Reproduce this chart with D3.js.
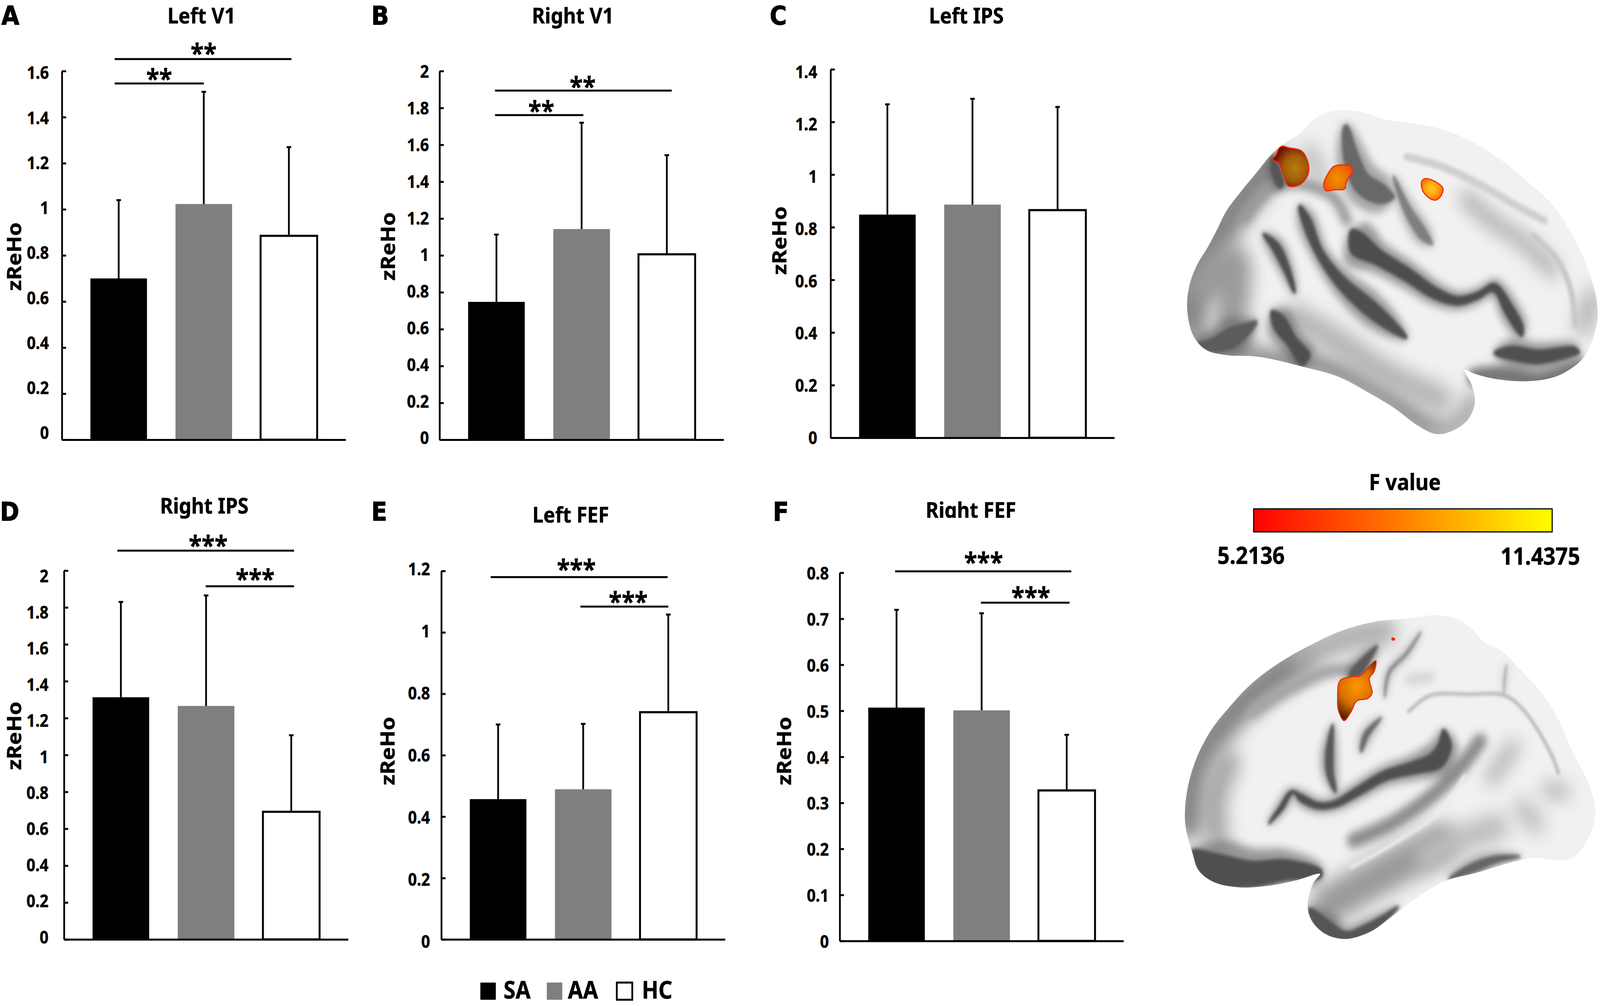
<!DOCTYPE html>
<html>
<head>
<meta charset="utf-8">
<script src="https://cdn.jsdelivr.net/npm/d3@7"></script>
<style>
  html, body { margin: 0; padding: 0; background: #fff; overflow: hidden; }
  text { font-family: "Noto Sans", sans-serif; font-weight: 700; fill: #000; stroke: #000; stroke-width: 0.7px; }
</style>
</head>
<body>
<div id="chart"></div>
<script>
"use strict";

// bar data
const groups = ["SA", "AA", "HC"];

const leftV1Means = [0.70, 1.023, 0.885];
const leftV1Tops = [1.04, 1.51, 1.27];
const leftV1Ticks = [0, 0.2, 0.4, 0.6, 0.8, 1, 1.2, 1.4, 1.6];

const rightV1Means = [0.748, 1.143, 1.006];
const rightV1Tops = [1.113, 1.72, 1.544];
const rightV1Ticks = [0, 0.2, 0.4, 0.6, 0.8, 1, 1.2, 1.4, 1.6, 1.8, 2];

const leftIpsMeans = [0.848, 0.886, 0.865];
const leftIpsTops = [1.267, 1.288, 1.257];
const leftIpsTicks = [0, 0.2, 0.4, 0.6, 0.8, 1, 1.2, 1.4];

const rightIpsMeans = [1.313, 1.266, 0.692];
const rightIpsTops = [1.83, 1.865, 1.107];
const rightIpsTicks = [0, 0.2, 0.4, 0.6, 0.8, 1, 1.2, 1.4, 1.6, 1.8, 2];

const leftFefMeans = [0.457, 0.489, 0.74];
const leftFefTops = [0.70, 0.702, 1.058];
const leftFefTicks = [0, 0.2, 0.4, 0.6, 0.8, 1, 1.2];

const rightFefMeans = [0.507, 0.501, 0.327];
const rightFefTops = [0.7195, 0.712, 0.448];
const rightFefTicks = [0, 0.1, 0.2, 0.3, 0.4, 0.5, 0.6, 0.7, 0.8];

// significance bars: from group, to group, level on the y axis, stars
const leftV1Sig = [["SA", "HC", 1.652, "**"], ["SA", "AA", 1.546, "**"]];
const rightV1Sig = [["SA", "HC", 1.894, "**"], ["SA", "AA", 1.761, "**"]];
const leftIpsSig = [];
const rightIpsSig = [["SA", "HC", 2.108, "***"], ["AA", "HC", 1.915, "***"]];
const leftFefSig = [["SA", "HC", 1.180, "***"], ["AA", "HC", 1.084, "***"]];
const rightFefSig = [["SA", "HC", 0.803, "***"], ["AA", "HC", 0.735, "***"]];

const fMin = 5.2136;
const fMax = 11.4375;
const fLabels = ["5.2136", "11.4375"];

const width = 4550;
const height = 2576;
const barFill = { SA: "#000000", AA: "#7f7f7f", HC: "#ffffff" };
const colorF = d3.scaleLinear().domain([fMin, fMax]).range(["#ff0000", "#ffff00"]);

// where each panel sits on the page
const panels = [
  { title: "Left V1", letter: "A", means: leftV1Means, tops: leftV1Tops, ticks: leftV1Ticks, sig: leftV1Sig,
    x0: 176, x1: 983, yTop: 182, y0: 1126, titleX: 573, titleY: 60, letterX: 4, letterY: 63,
    yLabelX: 60.5, yLabelY: 657, tickGap: 37, labelTop: 4, labelBottom: -18,
    sigLayout: [[-11.5, 7.5, 1.5, 29.5], [-11.5, 0, 0, 26.5]] },
  { title: "Right V1", letter: "B", means: rightV1Means, tops: rightV1Tops, ticks: rightV1Ticks, sig: rightV1Sig,
    x0: 1250, x1: 2058, yTop: 182, y0: 1126, titleX: 1629, titleY: 60, letterX: 1056, letterY: 63,
    yLabelX: 1123, yLabelY: 631, tickGap: 30, labelTop: 1, labelBottom: -5,
    sigLayout: [[-4, 14, -2, 25], [-4, 5, 6, 26]] },
  { title: "Left IPS", letter: "C", means: leftIpsMeans, tops: leftIpsTops, ticks: leftIpsTicks, sig: leftIpsSig,
    x0: 2362, x1: 3169, yTop: 177.5, y0: 1121, titleX: 2748, titleY: 60, letterX: 2189, letterY: 63,
    yLabelX: 2236, yLabelY: 616, tickGap: 38, labelTop: 6, labelBottom: 0,
    sigLayout: [] },
  { title: "Right IPS", letter: "D", means: rightIpsMeans, tops: rightIpsTops, ticks: rightIpsTicks, sig: rightIpsSig,
    x0: 182, x1: 990, yTop: 1461, y0: 2405.5, titleX: 581, titleY: 1315, letterX: 0, letterY: 1333,
    yLabelX: 60.5, yLabelY: 1884, tickGap: 44, labelTop: 14, labelBottom: -6,
    sigLayout: [[-10, 8, 7, 28], [-1, 8, 15, 33]] },
  { title: "Left FEF", letter: "E", means: leftFefMeans, tops: leftFefTops, ticks: leftFefTicks, sig: leftFefSig,
    x0: 1255, x1: 2062, yTop: 1462, y0: 2405.6, titleX: 1623, titleY: 1338, letterX: 1056, letterY: 1333,
    yLabelX: 1122, yLabelY: 1923, tickGap: 32, labelTop: -5, labelBottom: 5,
    sigLayout: [[-21, -2, -8, 35], [-8, 0, 11, 27.5]] },
  { title: "Right FEF", letter: "F", means: rightFefMeans, tops: rightFefTops, ticks: rightFefTicks, sig: rightFefSig,
    x0: 2388, x1: 3195, yTop: 1466.6, y0: 2409.4, titleX: 2761, titleY: 1326, letterX: 2198, letterY: 1333,
    yLabelX: 2250, yLabelY: 1923, tickGap: 31, labelTop: 1.5, labelBottom: 1,
    titleClip: true,
    sigLayout: [[-4, 13, 1, 38.5], [-2, 8, 16, 29]] }
];

// brain drawings, traced in the coordinates of a 1568 x 1568 crop
const brainTopOutline = [[95,820],[105,760],[130,710],[170,660],[205,610],[235,565],[290,510],[345,460],[400,410],[450,380],[500,355],[540,325],[590,302],[650,295],[720,300],[800,320],[900,330],[1000,345],[1100,375],[1200,420],[1300,480],[1400,550],[1470,630],[1525,720],[1555,800],[1558,860],[1530,930],[1500,965],[1420,1005],[1320,1020],[1200,1015],[1120,1000],[1085,990],[1110,1030],[1122,1075],[1100,1120],[1050,1150],[985,1162],[920,1140],[830,1090],[740,1050],[640,1010],[500,980],[350,955],[230,950],[160,935],[115,895]];

// soft shading: colour, stroke width, blur, line
const brainTopShades = [
  ["#858585", 100, "blurL", [[105,850],[130,740],[210,620],[300,520],[390,440]]],
  ["#9a9a9a", 90, "blurL", [[150,760],[260,700],[250,860]]],
  ["#8a8a8a", 60, "blurL", [[120,900],[200,930],[300,935]]],
  ["#7c7c7c", 50, "blurL", [[320,965],[500,965],[650,1000],[800,1060],[960,1150]]],
  ["#a0a0a0", 50, "blurL", [[960,1150],[1060,1140],[1115,1075]]],
  ["#b4b4b4", 70, "blurL", [[480,850],[620,910],[800,1000],[1000,1070]]],
  ["#bababa", 60, "blurL", [[1510,870],[1540,800]]],
  ["#777777", 50, "blurM", [[1125,1010],[1220,1005],[1350,1020],[1500,985]]],
  ["#a8a8a8", 38, "blurL", [[1090,530],[1180,590],[1300,650],[1400,725]]],
  ["#bdbdbd", 50, "blurL", [[530,410],[565,470]]],
  ["#9a9a9a", 30, "blurM", [[300,585],[400,500],[520,495],[620,530],[665,590]]],
  ["#cfcfcf", 20, "blurS", [[880,420],[1000,445],[1130,490],[1280,555],[1370,590]]],
  ["#c8c8c8", 16, "blurS", [[1330,630],[1420,700],[1465,780],[1480,870]]]
];

// sulci: colour, points with a local width
const brainTopSulci = [
  ["#4f4f4f", [[495,550,8],[520,590,34],[570,680,30],[650,760,40],[740,820,50],[830,875,34],[880,905,6]]],
  ["#4f4f4f", [[365,625,5],[410,660,30],[450,720,26],[480,785,6]]],
  ["#4d4d4d", [[680,615,12],[700,650,70],[780,690,46],[880,735,40],[980,785,34],[1060,805,26],[1130,792,22],[1190,770,26],[1240,825,36],[1285,885,28],[1290,902,5]]],
  ["#4f4f4f", [[395,832,8],[420,860,50],[470,915,40],[520,965,42]]],
  ["#505050", [[1190,945,8],[1250,945,40],[1350,955,40],[1480,940,24],[1497,945,4]]],
  ["#5c5c5c", [[130,925,14],[180,925,36],[250,905,58],[310,880,36],[345,860,6]]],
  ["#555555", [[400,420,12],[412,460,34],[432,500,20]]],
  ["#686868", [[660,335,14],[680,420,56],[720,490,66],[790,520,56],[835,528,8]]],
  ["#7f7f7f", [[830,470,4],[880,560,28],[940,630,32],[972,655,4]]]
];

const brainTopBlobs = [
  { id: "blobA", fill: ["#b47e10", "#a35a08", "#6e1204"], center: [480, 450], radius: 75,
    points: [[400,428],[412,415],[428,392],[460,396],[505,405],[528,440],[525,470],[495,495],[455,497],[440,470],[420,435]] },
  { id: "blobB", fill: ["#f59000", "#ea7000", "#e84500"], center: [630, 478], radius: 65,
    points: [[582,495],[600,462],[620,445],[680,445],[685,458],[662,488],[658,505],[620,508],[590,510]] },
  { id: "blobC", fill: ["#ffc81e", "#ffa010", "#ff5a00"], center: [968, 505], radius: 44,
    points: [[932,485],[945,478],[985,488],[1008,505],[1000,525],[985,535],[965,533],[935,510]] }
];

const brainBottomOutline = [[88,830],[100,740],[130,640],[180,540],[240,460],[320,370],[420,290],[520,230],[640,170],[760,135],[880,122],[990,110],[1060,125],[1120,170],[1155,210],[1220,245],[1290,320],[1360,400],[1420,500],[1470,620],[1520,720],[1550,820],[1545,890],[1510,970],[1470,1015],[1420,1025],[1340,1015],[1260,1030],[1130,1070],[1020,1100],[920,1160],[830,1230],[750,1290],[660,1318],[590,1300],[540,1250],[525,1190],[545,1110],[570,1075],[480,1100],[380,1120],[280,1125],[190,1105],[135,1060],[115,1000],[90,900]];

const brainBottomShades = [
  ["#858585", 90, "blurL", [[100,880],[125,680],[210,530],[330,400],[500,270]]],
  ["#adadad", 70, "blurL", [[500,260],[680,190],[800,170]]],
  ["#a6a6a6", 70, "blurL", [[240,660],[190,800],[200,930]]],
  ["#9a9a9a", 100, "blurL", [[600,1190],[800,1070],[1000,960]]],
  ["#8c8c8c", 40, "blurM", [[690,950],[820,890],[960,790],[1060,690],[1140,580]]],
  ["#ededed", 10, "blurS", [[680,1050],[850,950],[1000,840],[1085,710]]],
  ["#bcbcbc", 50, "blurL", [[1290,830],[1340,890]]],
  ["#a8a8a8", 34, "blurL", [[1380,760],[1440,770]]],
  ["#a8a8a8", 34, "blurL", [[1180,720],[1260,600]]],
  ["#a4a4a4", 34, "blurM", [[330,470],[460,385],[620,315],[720,330]]],
  ["#b0b0b0", 8, "blurS", [[885,470],[960,410],[1100,405],[1230,410],[1300,470],[1390,620],[1420,700]]],
  ["#d6d6d6", 30, "blurM", [[890,350],[960,340]]],
  ["#bdbdbd", 70, "blurL", [[950,1010],[1090,940],[1200,900]]]
];

const brainBottomSulci = [
  ["#4f4f4f", [[1010,535,8],[1015,590,50],[985,650,68],[900,680,50],[800,710,40],[700,770,34],[620,815,28],[560,820,28],[500,790,28],[470,770,18],[430,830,20],[385,890,4]]],
  ["#5a5a5a", [[615,515,4],[603,620,30],[605,700,28],[625,772,8]]],
  ["#6a6a6a", [[790,490,3],[735,555,22],[715,622,6]]],
  ["#5c5c5c", [[775,222,4],[745,260,28],[695,325,40],[670,345,6]]],
  ["#4f4f4f", [[112,985,10],[190,1055,120],[330,1075,100],[450,1060,80],[575,1075,30]]],
  ["#555555", [[528,1205,14],[590,1275,60],[660,1305,36],[730,1285,40],[805,1235,26],[850,1195,4]]],
  ["#666666", [[1030,1095,8],[1120,1050,36],[1200,1020,28],[1285,1010,4]]],
  ["#8f8f8f", [[930,170,3],[880,250,14],[815,325,14],[800,420,3]]],
  ["#a8a8a8", [[1235,290,2],[1228,350,8],[1225,405,2]]]
];

const brainBottomBlobs = [
  { id: "blobD", fill: ["#ff9800", "#d86e00", "#4c2404"], center: [700, 375], radius: 110,
    points: [[640,355],[680,340],[715,335],[745,300],[768,280],[762,320],[745,345],[755,400],[740,420],[700,430],[680,470],[655,503],[635,465],[632,420]] },
  { id: "blobE", fill: ["#ee1111", "#ee1111", "#ee1111"], center: [830, 199], radius: 6,
    points: [[825,197],[830,195],[836,199],[830,203]] }
];

// the browser window can be narrower than the page asked for, so fit the viewBox to it
const svg = d3.select("#chart").append("svg")
  .attr("viewBox", "0 0 " + width + " " + height)
  .attr("preserveAspectRatio", "none")
  .style("width", "100vw")
  .style("height", "100vh")
  .style("display", "block");

svg.append("rect").attr("width", width).attr("height", height).attr("fill", "#ffffff");

const defs = svg.append("defs");

function addBlur(id, amount) {
  defs.append("filter")
    .attr("id", id)
    .attr("filterUnits", "userSpaceOnUse")
    .attr("x", 3300).attr("y", 0).attr("width", 1250).attr("height", height)
    .append("feGaussianBlur")
    .attr("stdDeviation", amount);
}
addBlur("blurS", 4);
addBlur("blurM", 11);
addBlur("blurL", 24);

function drawPanel(panel, i) {
  const g = svg.append("g").attr("class", "panel");

  const maxTick = d3.max(panel.ticks);
  const y = d3.scaleLinear().domain([0, maxTick]).range([panel.y0, panel.yTop]);
  const labelY = d3.scaleLinear().domain([0, maxTick])
    .range([panel.y0 + panel.labelBottom, panel.yTop + panel.labelTop]);
  const x = d3.scaleBand().domain(groups).range([panel.x0, panel.x1]).padding(0.335);
  const center = function(name) { return x(name) + x.bandwidth() / 2; };

  const rows = groups.map(function(name, j) {
    return { name: name, mean: panel.means[j], top: panel.tops[j] };
  });

  g.selectAll("rect.bar")
    .data(rows)
    .enter()
    .append("rect")
    .attr("class", "bar")
    .attr("x", function(d) { return x(d.name); })
    .attr("y", function(d) { return y(d.mean); })
    .attr("width", x.bandwidth())
    .attr("height", function(d) { return y(0) - y(d.mean); })
    .attr("fill", function(d) { return barFill[d.name]; })
    .attr("stroke", function(d) { return d.name == "HC" ? "#000" : "none"; })
    .attr("stroke-width", 5.5);

  g.selectAll("line.err")
    .data(rows)
    .enter()
    .append("line")
    .attr("class", "err")
    .attr("x1", function(d) { return center(d.name); })
    .attr("x2", function(d) { return center(d.name); })
    .attr("y1", function(d) { return y(d.mean); })
    .attr("y2", function(d) { return y(d.top); })
    .attr("stroke", "#000")
    .attr("stroke-width", 5);

  g.selectAll("line.cap")
    .data(rows)
    .enter()
    .append("line")
    .attr("class", "cap")
    .attr("x1", function(d) { return center(d.name) - 6.5; })
    .attr("x2", function(d) { return center(d.name) + 6.5; })
    .attr("y1", function(d) { return y(d.top); })
    .attr("y2", function(d) { return y(d.top); })
    .attr("stroke", "#000")
    .attr("stroke-width", 5);

  const yAxis = d3.axisLeft(y)
    .tickValues(panel.ticks)
    .tickFormat(function(d) { return String(d); })
    .tickSizeInner(-12)
    .tickSizeOuter(0)
    .tickPadding(panel.tickGap);

  const yG = g.append("g")
    .attr("transform", "translate(" + panel.x0 + ",0)")
    .call(yAxis);
  yG.selectAll(".domain, .tick line").attr("stroke", "#000").attr("stroke-width", 5);
  yG.selectAll(".tick text")
    .attr("font-size", 44)
    .attr("font-family", "'Noto Sans', sans-serif")
    .attr("y", function(d) { return labelY(d) - y(d); })
    .attr("dy", "0.36em");

  const xAxis = d3.axisBottom(x).tickSize(0).tickFormat("");
  const xG = g.append("g")
    .attr("transform", "translate(0," + panel.y0 + ")")
    .call(xAxis);
  xG.select(".domain").attr("stroke", "#000").attr("stroke-width", 5);

  const title = g.append("text")
    .attr("x", panel.titleX)
    .attr("y", panel.titleY)
    .attr("text-anchor", "middle")
    .attr("font-size", 56)
    .text(panel.title);
  if (panel.titleClip) {
    // the source figure crops the descender of this title
    defs.append("clipPath").attr("id", "titleClip" + i)
      .append("rect")
      .attr("x", panel.titleX - 300).attr("y", panel.titleY - 80)
      .attr("width", 600).attr("height", 80);
    title.attr("clip-path", "url(#titleClip" + i + ")");
  }

  g.append("text")
    .attr("x", panel.letterX)
    .attr("y", panel.letterY)
    .attr("font-size", 66)
    .style("font-family", "'DejaVu Sans', sans-serif")
    .style("stroke-width", "1.5px")
    .text(panel.letter);

  g.append("text")
    .attr("transform", "translate(" + panel.yLabelX + "," + panel.yLabelY + ") rotate(-90)")
    .attr("text-anchor", "middle")
    .attr("font-size", 56)
    .text("zReHo");

  panel.sig.forEach(function(s, k) {
    const place = panel.sigLayout[k];
    const xa = center(s[0]) + place[0];
    const xb = center(s[1]) + place[1];
    g.append("line")
      .attr("x1", xa).attr("x2", xb)
      .attr("y1", y(s[2])).attr("y2", y(s[2]))
      .attr("stroke", "#000")
      .attr("stroke-width", 5);
    g.append("text")
      .attr("x", (xa + xb) / 2 + place[2])
      .attr("y", y(s[2]) - place[3] + 39)
      .attr("text-anchor", "middle")
      .attr("font-size", 68)
      .text(s[3]);
  });
}

panels.forEach(drawPanel);

// legend
const legendItems = [
  { name: groups[0], box: 1366, label: 1432 },
  { name: groups[1], box: 1555, label: 1615 },
  { name: groups[2], box: 1754, label: 1825 }
];
const legend = svg.append("g").attr("class", "legend");
legend.selectAll("rect")
  .data(legendItems)
  .enter()
  .append("rect")
  .attr("x", function(d) { return d.box; })
  .attr("y", 2516)
  .attr("width", 44)
  .attr("height", 44)
  .attr("fill", function(d) { return barFill[d.name]; })
  .attr("stroke", function(d) { return d.name == "HC" ? "#000" : "none"; })
  .attr("stroke-width", 5);
legend.selectAll("text")
  .data(legendItems)
  .enter()
  .append("text")
  .attr("x", function(d) { return d.label; })
  .attr("y", 2557)
  .attr("font-size", 62)
  .text(function(d) { return d.name; });

// colour bar
const barScale = d3.scaleLinear().domain([fMin, fMax]).range([3565, 4414]);
const gradient = defs.append("linearGradient").attr("id", "fGradient");
d3.range(0, 1.01, 0.1).forEach(function(t) {
  gradient.append("stop")
    .attr("offset", t)
    .attr("stop-color", colorF(fMin + t * (fMax - fMin)));
});
svg.append("rect")
  .attr("x", barScale(fMin))
  .attr("y", 1303)
  .attr("width", barScale(fMax) - barScale(fMin))
  .attr("height", 59)
  .attr("fill", "url(#fGradient)")
  .attr("stroke", "#000")
  .attr("stroke-width", 3);
svg.append("text")
  .attr("x", 3995).attr("y", 1255)
  .attr("text-anchor", "middle")
  .attr("font-size", 58)
  .text("F value");
svg.append("text")
  .attr("x", 3462).attr("y", 1444)
  .attr("font-size", 61)
  .text(fLabels[0]);
svg.append("text")
  .attr("x", 4267).attr("y", 1446)
  .attr("font-size", 61)
  .text(fLabels[1]);

// closed shape around a line whose width changes from point to point
function ribbon(points, grow) {
  const left = [];
  const right = [];
  points.forEach(function(p, i) {
    const a = points[Math.max(i - 1, 0)];
    const b = points[Math.min(i + 1, points.length - 1)];
    const len = Math.hypot(b[0] - a[0], b[1] - a[1]);
    const nx = -(b[1] - a[1]) / len;
    const ny = (b[0] - a[0]) / len;
    const half = p[2] * grow / 2;
    left.push([p[0] + nx * half, p[1] + ny * half]);
    right.unshift([p[0] - nx * half, p[1] - ny * half]);
  });
  return left.concat(right);
}

function drawBrain(id, outline, shades, sulci, blobs, sx, sy) {
  const g = svg.append("g").attr("class", "brain");
  const smooth = d3.line()
    .x(function(p) { return sx(p[0]); })
    .y(function(p) { return sy(p[1]); })
    .curve(d3.curveCatmullRomClosed.alpha(0.5));
  const open = d3.line()
    .x(function(p) { return sx(p[0]); })
    .y(function(p) { return sy(p[1]); })
    .curve(d3.curveCatmullRom.alpha(0.5));

  defs.append("clipPath").attr("id", id).append("path").attr("d", smooth(outline));

  g.append("path").attr("d", smooth(outline)).attr("fill", "#f1f1f1");

  const inner = g.append("g").attr("clip-path", "url(#" + id + ")");
  inner.selectAll("path.shade")
    .data(shades)
    .enter()
    .append("path")
    .attr("class", "shade")
    .attr("d", function(s) { return open(s[3]); })
    .attr("fill", "none")
    .attr("stroke", function(s) { return s[0]; })
    .attr("stroke-width", function(s) { return s[1]; })
    .attr("stroke-linecap", "round")
    .attr("stroke-linejoin", "round")
    .attr("filter", function(s) { return "url(#" + s[2] + ")"; });

  // a soft halo first, then the dark core of each sulcus
  inner.selectAll("path.halo")
    .data(sulci)
    .enter()
    .append("path")
    .attr("class", "halo")
    .attr("d", function(s) { return smooth(ribbon(s[1], 1.9)); })
    .attr("fill", function(s) { return s[0]; })
    .attr("opacity", 0.55)
    .attr("filter", "url(#blurM)");
  inner.selectAll("path.core")
    .data(sulci)
    .enter()
    .append("path")
    .attr("class", "core")
    .attr("d", function(s) { return smooth(ribbon(s[1], 1)); })
    .attr("fill", function(s) { return s[0]; })
    .attr("filter", "url(#blurS)");

  blobs.forEach(function(b) {
    const grad = defs.append("radialGradient")
      .attr("id", b.id)
      .attr("gradientUnits", "userSpaceOnUse")
      .attr("cx", sx(b.center[0]))
      .attr("cy", sy(b.center[1]))
      .attr("r", (sx(b.radius) - sx(0)));
    grad.append("stop").attr("offset", 0).attr("stop-color", b.fill[0]);
    grad.append("stop").attr("offset", 0.55).attr("stop-color", b.fill[1]);
    grad.append("stop").attr("offset", 1).attr("stop-color", b.fill[2]);
    inner.append("path")
      .attr("d", smooth(b.points))
      .attr("fill", "url(#" + b.id + ")")
      .attr("stroke", "#f02a08")
      .attr("stroke-width", 3);
  });
}

drawBrain("brainTop", brainTopOutline, brainTopShades, brainTopSulci, brainTopBlobs,
  d3.scaleLinear().domain([0, 1568]).range([3300, 4550]),
  d3.scaleLinear().domain([0, 1568]).range([0, 1500]));

drawBrain("brainBottom", brainBottomOutline, brainBottomShades, brainBottomSulci, brainBottomBlobs,
  d3.scaleLinear().domain([0, 1568]).range([3300, 4550]),
  d3.scaleLinear().domain([0, 1568]).range([1500, 2576]));
</script>
</body>
</html>
